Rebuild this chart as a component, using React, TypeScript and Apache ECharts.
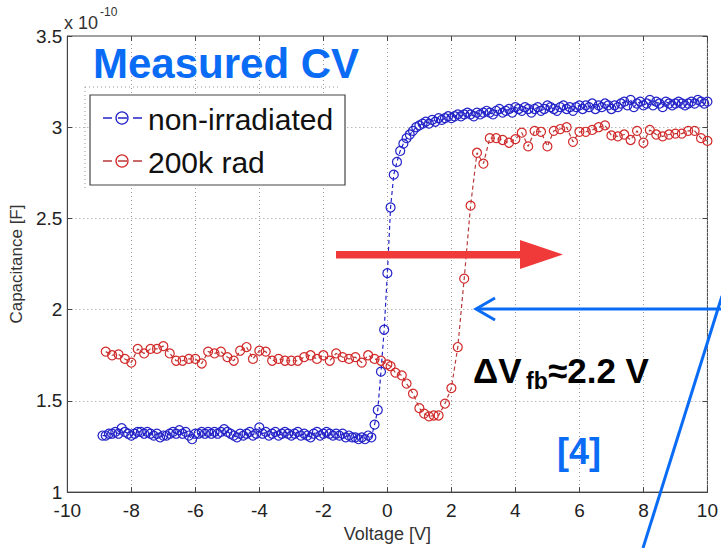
import React, { useEffect, useRef } from "react";
import * as echarts from "echarts";

// x-axis (Voltage [V]) and y-axis (Capacitance, ×1e-10 F) ticks
const xTicks = [-10, -8, -6, -4, -2, 0, 2, 4, 6, 8, 10];
const yTicks = [1, 1.5, 2, 2.5, 3, 3.5];

const seriesNames = ["non-irradiated", "200k rad"];

// non-irradiated sweep
const blueV = [
  -8.9, -8.8, -8.7, -8.6, -8.5, -8.4, -8.3, -8.2, -8.1, -8.0,
  -7.9, -7.8, -7.7, -7.6, -7.5, -7.4, -7.3, -7.2, -7.1, -7.0,
  -6.9, -6.8, -6.7, -6.6, -6.5, -6.4, -6.3, -6.2, -6.1, -6.0,
  -5.9, -5.8, -5.7, -5.6, -5.5, -5.4, -5.3, -5.2, -5.1, -5.0,
  -4.9, -4.8, -4.7, -4.6, -4.5, -4.4, -4.3, -4.2, -4.1, -4.0,
  -3.9, -3.8, -3.7, -3.6, -3.5, -3.4, -3.3, -3.2, -3.1, -3.0,
  -2.9, -2.8, -2.7, -2.6, -2.5, -2.4, -2.3, -2.2, -2.1, -2.0,
  -1.9, -1.8, -1.7, -1.6, -1.5, -1.4, -1.3, -1.2, -1.1, -1.0,
  -0.9, -0.8, -0.7, -0.6, -0.5, -0.4, -0.3, -0.2, -0.1, 0.0,
  0.1, 0.2, 0.3, 0.4, 0.5, 0.6, 0.7, 0.8, 0.9, 1.0,
  1.1, 1.2, 1.3, 1.4, 1.5, 1.6, 1.7, 1.8, 1.9, 2.0,
  2.1, 2.2, 2.3, 2.4, 2.5, 2.6, 2.7, 2.8, 2.9, 3.0,
  3.1, 3.2, 3.3, 3.4, 3.5, 3.6, 3.7, 3.8, 3.9, 4.0,
  4.1, 4.2, 4.3, 4.4, 4.5, 4.6, 4.7, 4.8, 4.9, 5.0,
  5.1, 5.2, 5.3, 5.4, 5.5, 5.6, 5.7, 5.8, 5.9, 6.0,
  6.1, 6.2, 6.3, 6.4, 6.5, 6.6, 6.7, 6.8, 6.9, 7.0,
  7.1, 7.2, 7.3, 7.4, 7.5, 7.6, 7.7, 7.8, 7.9, 8.0,
  8.1, 8.2, 8.3, 8.4, 8.5, 8.6, 8.7, 8.8, 8.9, 9.0,
  9.1, 9.2, 9.3, 9.4, 9.5, 9.6, 9.7, 9.8, 9.9, 10.0,
];
const blueC = [
  1.31, 1.31, 1.32, 1.32, 1.33, 1.32, 1.35, 1.33, 1.32, 1.31,
  1.32, 1.33, 1.33, 1.32, 1.33, 1.32, 1.31, 1.32, 1.30, 1.31,
  1.31, 1.32, 1.33, 1.32, 1.34, 1.32, 1.33, 1.31, 1.29, 1.32,
  1.32, 1.33, 1.32, 1.33, 1.32, 1.33, 1.32, 1.33, 1.345, 1.33,
  1.32, 1.31, 1.30, 1.32, 1.31, 1.32, 1.33, 1.31, 1.32, 1.355,
  1.32, 1.33, 1.31, 1.32, 1.33, 1.31, 1.32, 1.33, 1.32, 1.31,
  1.32, 1.33, 1.31, 1.32, 1.31, 1.30, 1.32, 1.33, 1.31, 1.32,
  1.33, 1.32, 1.31, 1.32, 1.31, 1.32, 1.30, 1.31, 1.30, 1.30,
  1.29, 1.30, 1.29, 1.31, 1.30, 1.37, 1.45, 1.66, 1.89, 2.20,
  2.56, 2.74, 2.81, 2.87, 2.91, 2.94, 2.96, 2.98, 3.00, 3.01,
  3.02, 3.03, 3.02, 3.04, 3.03, 3.05, 3.04, 3.05, 3.06, 3.05,
  3.06, 3.07, 3.06, 3.07, 3.08, 3.07, 3.06, 3.08, 3.07, 3.08,
  3.09, 3.08, 3.07, 3.09, 3.10, 3.08, 3.09, 3.10, 3.08, 3.11,
  3.10, 3.09, 3.11, 3.10, 3.08, 3.10, 3.11, 3.09, 3.10, 3.12,
  3.11, 3.10, 3.09, 3.11, 3.12, 3.10, 3.11, 3.09, 3.11, 3.12,
  3.10, 3.12, 3.11, 3.13, 3.10, 3.12, 3.11, 3.13, 3.12, 3.10,
  3.12, 3.11, 3.13, 3.14, 3.12, 3.15, 3.11, 3.13, 3.14, 3.12,
  3.13, 3.15, 3.12, 3.14, 3.13, 3.11, 3.14, 3.13, 3.12, 3.13,
  3.14, 3.13, 3.12, 3.13, 3.14, 3.13, 3.15, 3.14, 3.13, 3.14,
];

// 200k rad sweep
const redV = [
  -8.8, -8.6, -8.4, -8.2, -8.0, -7.8, -7.6, -7.4, -7.2, -7.0,
  -6.8, -6.6, -6.4, -6.2, -6.0, -5.8, -5.6, -5.4, -5.2, -5.0,
  -4.8, -4.6, -4.4, -4.2, -4.0, -3.8, -3.6, -3.4, -3.2, -3.0,
  -2.8, -2.6, -2.4, -2.2, -2.0, -1.8, -1.6, -1.4, -1.2, -1.0,
  -0.8, -0.6, -0.4, -0.2, 0.0, 0.1, 0.25, 0.45, 0.6, 0.8,
  1.0, 1.15, 1.3, 1.45, 1.6, 1.8, 2.0, 2.2, 2.4, 2.6,
  2.8, 3.0, 3.2, 3.4, 3.6, 3.8, 4.0, 4.2, 4.4, 4.6,
  4.8, 5.0, 5.2, 5.4, 5.6, 5.8, 6.0, 6.2, 6.4, 6.6,
  6.8, 7.0, 7.2, 7.4, 7.6, 7.8, 8.0, 8.2, 8.4, 8.6,
  8.8, 9.0, 9.2, 9.4, 9.6, 9.8, 10.0,
];
const redC = [
  1.77, 1.75, 1.755, 1.73, 1.71, 1.785, 1.76, 1.785, 1.785, 1.80,
  1.76, 1.72, 1.72, 1.73, 1.73, 1.705, 1.77, 1.76, 1.77, 1.74,
  1.72, 1.775, 1.795, 1.73, 1.775, 1.77, 1.72, 1.73, 1.72, 1.72,
  1.72, 1.74, 1.75, 1.73, 1.75, 1.72, 1.76, 1.74, 1.73, 1.74,
  1.71, 1.75, 1.73, 1.72, 1.70, 1.69, 1.655, 1.64, 1.595, 1.54,
  1.46, 1.43, 1.415, 1.42, 1.42, 1.485, 1.57, 1.795, 2.17, 2.57,
  2.86, 2.80, 2.94, 2.94, 2.93, 2.915, 2.935, 2.97, 2.895, 2.98,
  2.975, 2.895, 2.98, 2.99, 3.0, 2.92, 2.975, 2.975, 2.985, 3.0,
  3.01, 2.955, 2.95, 2.96, 2.93, 2.98, 2.915, 2.985, 2.96, 2.95,
  2.96, 2.965, 2.965, 2.98, 2.98, 2.94, 2.925,
];

const FONT = "'Liberation Sans', Arial, Helvetica, sans-serif";
const BLUE = "#2323c8";
const RED = "#d22a2a";
const ANNOT_BLUE = "#0a6cf5";

export default function App() {
  const ref = useRef<HTMLDivElement>(null);

  useEffect(() => {
    if (!ref.current) return;
    const chart = echarts.init(ref.current, null, { renderer: "svg" });

    const blueData = blueV.map((v, i) => [v, blueC[i]]);
    const redData = redV.map((v, i) => [v, redC[i]]);

    const baseX = {
      type: "value" as const,
      min: xTicks[0],
      max: xTicks[xTicks.length - 1],
      interval: 2,
    };
    const baseY = {
      type: "value" as const,
      min: yTicks[0],
      max: yTicks[yTicks.length - 1],
      interval: 0.5,
    };

    const option: any = {
      animation: false,
      backgroundColor: "#ffffff",
      grid: {
        left: 64,
        right: 12,
        top: 36,
        bottom: 54,
        show: true,
        borderColor: "#444",
        borderWidth: 1,
        backgroundColor: "transparent",
      },
      xAxis: [
        {
          ...baseX,
          position: "bottom",
          name: "Voltage [V]",
          nameLocation: "middle",
          nameGap: 31,
          nameTextStyle: { fontFamily: FONT, fontSize: 18, color: "#333" },
          axisLine: { show: true, onZero: false, lineStyle: { color: "#444", width: 1 } },
          axisTick: { show: true, inside: true, length: 5, lineStyle: { color: "#444" } },
          axisLabel: { fontFamily: FONT, fontSize: 19, color: "#222", margin: 9 },
          splitLine: { show: true, lineStyle: { color: "#999", type: [1, 3], width: 1 } },
        },
        {
          ...baseX,
          position: "top",
          axisLine: { show: false, onZero: false },
          axisTick: { show: true, inside: true, length: 5, lineStyle: { color: "#444" } },
          axisLabel: { show: false },
          splitLine: { show: false },
        },
      ],
      yAxis: [
        {
          ...baseY,
          position: "left",
          name: "Capacitance [F]",
          nameLocation: "middle",
          nameGap: 40,
          nameRotate: 90,
          nameTextStyle: { fontFamily: FONT, fontSize: 17, color: "#333" },
          axisLine: { show: true, onZero: false, lineStyle: { color: "#444", width: 1 } },
          axisTick: { show: true, inside: true, length: 5, lineStyle: { color: "#444" } },
          axisLabel: { fontFamily: FONT, fontSize: 19, color: "#222", margin: 5 },
          splitLine: { show: true, lineStyle: { color: "#999", type: [1, 3], width: 1 } },
        },
        {
          ...baseY,
          position: "right",
          axisLine: { show: false, onZero: false },
          axisTick: { show: true, inside: true, length: 5, lineStyle: { color: "#444" } },
          axisLabel: { show: false },
          splitLine: { show: false },
        },
      ],
      series: [
        {
          name: seriesNames[0],
          type: "line",
          data: blueData,
          symbol: "circle",
          symbolSize: 9,
          showAllSymbol: true,
          itemStyle: { color: "rgba(0,0,0,0)", borderColor: BLUE, borderWidth: 1.2 },
          lineStyle: { color: BLUE, width: 1.2, type: [4, 3] },
          z: 3,
        },
        {
          name: seriesNames[1],
          type: "line",
          data: redData,
          symbol: "circle",
          symbolSize: 9,
          showAllSymbol: true,
          itemStyle: { color: "rgba(0,0,0,0)", borderColor: RED, borderWidth: 1.2 },
          lineStyle: { color: "#b83a3a", width: 1.2, type: [4, 3] },
          z: 3,
        },
      ],
      graphic: [
        // exponent
        { type: "text", x: 64, y: 23, style: { text: "x 10", font: `18px ${FONT}`, fill: "#333", verticalAlign: "middle" } },
        { type: "text", x: 100, y: 12, style: { text: "-10", font: `12px ${FONT}`, fill: "#333", verticalAlign: "middle" } },
        // title
        { type: "text", x: 93, y: 63, z: 10, style: { text: "Measured CV", font: `bold 42px ${FONT}`, fill: ANNOT_BLUE, verticalAlign: "middle" } },
        // legend frame artifacts (dotted)
        { type: "line", z: 9, shape: { x1: 85, y1: 87, x2: 340, y2: 87 }, style: { stroke: "#999", lineWidth: 1, lineDash: [1, 3] } },
        { type: "line", z: 9, shape: { x1: 85, y1: 87, x2: 85, y2: 190 }, style: { stroke: "#999", lineWidth: 1, lineDash: [1, 3] } },
        // legend box
        { type: "rect", z: 10, shape: { x: 90, y: 95, width: 255, height: 90 }, style: { fill: "#fff", stroke: "#444", lineWidth: 1.2 } },
        { type: "line", z: 11, shape: { x1: 103, y1: 118, x2: 145, y2: 118 }, style: { stroke: BLUE, lineWidth: 1.5, lineDash: [9, 6] } },
        { type: "circle", z: 11, shape: { cx: 122, cy: 118, r: 6 }, style: { fill: "rgba(0,0,0,0)", stroke: BLUE, lineWidth: 1.3 } },
        { type: "text", z: 11, x: 148, y: 119, style: { text: seriesNames[0], font: `30px ${FONT}`, fill: "#111", verticalAlign: "middle" } },
        { type: "line", z: 11, shape: { x1: 103, y1: 161, x2: 145, y2: 161 }, style: { stroke: "#b83a3a", lineWidth: 1.5, lineDash: [9, 6] } },
        { type: "circle", z: 11, shape: { cx: 122, cy: 161, r: 6 }, style: { fill: "rgba(0,0,0,0)", stroke: RED, lineWidth: 1.3 } },
        { type: "text", z: 11, x: 148, y: 162, style: { text: seriesNames[1], font: `30px ${FONT}`, fill: "#111", verticalAlign: "middle" } },
        // red shift arrow
        { type: "rect", z: 12, shape: { x: 336, y: 251, width: 186, height: 7.5 }, style: { fill: "#f03a3a" } },
        { type: "polygon", z: 12, shape: { points: [[520, 240], [563, 254.5], [520, 269]] }, style: { fill: "#f03a3a" } },
        // blue pointer arrow
        { type: "line", z: 12, shape: { x1: 476, y1: 309, x2: 721, y2: 309 }, style: { stroke: ANNOT_BLUE, lineWidth: 3 } },
        { type: "polyline", z: 12, shape: { points: [[495, 298], [476, 309], [495, 320]] }, style: { stroke: ANNOT_BLUE, lineWidth: 3, fill: "none" } },
        { type: "line", z: 12, shape: { x1: 722, y1: 296, x2: 643, y2: 548 }, style: { stroke: ANNOT_BLUE, lineWidth: 3 } },
        // delta V_fb annotation
        { type: "text", z: 12, x: 473, y: 370, style: { text: "ΔV", font: `bold 35px ${FONT}`, fill: "#000", verticalAlign: "middle" } },
        { type: "text", z: 12, x: 526, y: 381, style: { text: "fb", font: `bold 23px ${FONT}`, fill: "#000", verticalAlign: "middle" } },
        { type: "text", z: 12, x: 548, y: 370, style: { text: "≈2.2 V", font: `bold 35px ${FONT}`, fill: "#000", verticalAlign: "middle" } },
        // reference
        { type: "text", z: 12, x: 557, y: 451, style: { text: "[4]", font: `bold 36px ${FONT}`, fill: ANNOT_BLUE, verticalAlign: "middle" } },
      ],
    };

    chart.setOption(option);
    return () => chart.dispose();
  }, []);

  return (
    <div
      ref={ref}
      style={{ position: "fixed", left: 0, top: 0, width: 721, height: 548, background: "#fff" }}
    />
  );
}
